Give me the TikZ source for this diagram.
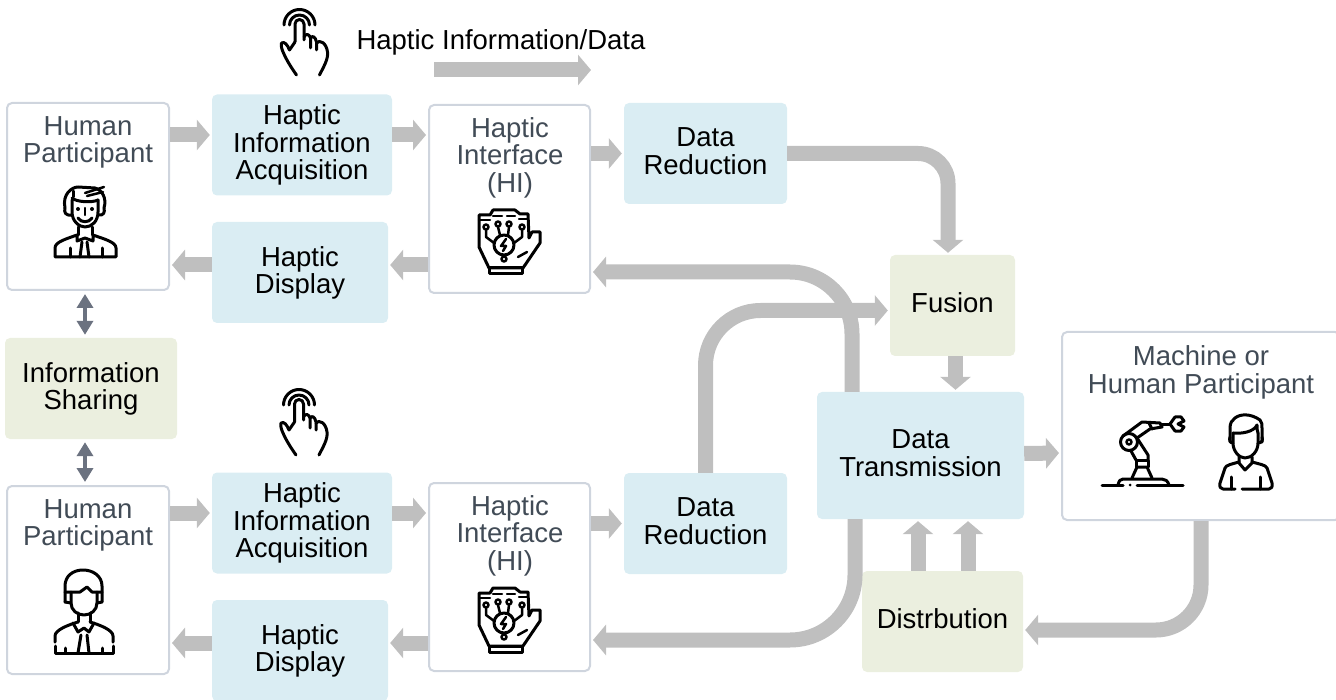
\documentclass[tikz,border=0pt]{standalone}
\usepackage{fontspec}
\setmainfont{Liberation Sans}
\usetikzlibrary{arrows.meta}

\definecolor{flowgray}{HTML}{BFBFBF}
\definecolor{sharegray}{HTML}{6B7280}
\definecolor{boxblue}{HTML}{DAEDF3}
\definecolor{boxgreen}{HTML}{EBEFDF}
\definecolor{boxline}{HTML}{CFD5DE}
\definecolor{labelgray}{HTML}{414B56}

\tikzset{
    basebox/.style={rounded corners=5pt, inner sep=0pt, align=center, text depth=5pt,
        font=\fontsize{27.5}{27.5}\selectfont},
    bluebox/.style={basebox, fill=boxblue},
    greenbox/.style={basebox, fill=boxgreen},
    whitebox/.style={basebox, draw=boxline, line width=2pt, fill=white},
    boxtext/.style={basebox, text=labelgray},
    flow/.style={flowgray, line width=15pt, -{Triangle[length=13pt,width=30pt]}, shorten >=2pt},
    sharing/.style={sharegray, line width=4pt,
        {Triangle[length=14pt,width=16pt]}-{Triangle[length=14pt,width=16pt]},
        shorten <=3pt, shorten >=3pt},
    icon/.style={black, line width=3pt, line cap=round, line join=round},
    hand/.pic={
        \draw (-15.5,1) arc (180:360:15.5);
        \draw (-10,1) arc (180:360:10);
        \draw (-4.5,18) -- (-4.5,0) arc (180:360:4.5) -- (4.5,16);
        \draw (4.5,13) .. controls (6,9) and (10,10) .. (11,14) -- (11,24);
        \draw (11,14) .. controls (13,11) and (16,13) .. (17,18) -- (17,26);
        \draw (17,19) .. controls (20,15) and (27,19) .. (28,28) .. controls (29,35) and (24,43) .. (20,51);
        \draw (-4.5,18) -- (-10,26) .. controls (-12,21) and (-15,17) .. (-18,19) .. controls (-19,22) and (-17,27) .. (-16,29)
            .. controls (-13,36) and (-8,44) .. (-3,51);
    },
    glove/.pic={
        \draw (-19,27) -- (-29,6) -- (-29,-26) -- (-18,-26) -- (-15,-31) -- (-6,-31) -- (-1,-31) -- (7,-31)
            -- (12,-27) -- (20,-27) -- (21,-3) -- (24,-9) -- (32,-9) -- (32,2) -- (15,27) -- cycle;
        \draw (-19,27) rectangle (14,33);
        \draw[line width=2.5pt] (-29,-21) -- (-18,-21) (-15,-25) -- (-6,-25) (-1,-25) -- (7,-25) (11,-22) -- (20,-22);
        \draw (-4,4) circle (10);
        \draw[line width=2.5pt] (-2,-2) -- (-7,5) -- (-2,5) -- (-5,10);
        \draw[line width=2.5pt] (-22,-14) circle (2.5) (-10,-17) circle (2.5) (1,-17) circle (2.5) (14,-14) circle (2.5) (-4,18) circle (2.5);
        \draw[line width=2.5pt] (-22,-11) -- (-22,-4) -- (-14,2) (-10,-14) -- (-8,-6) (1,-14) -- (0,-6) (14,-11) -- (14,-4) -- (6,2);
        \draw[line width=2.5pt] (10,16) -- (19,11);
    },
    manhair/.pic={
        \draw (-21,-4) .. controls (-24,-18) and (-14,-25) .. (-8,-25) -- (9,-24) .. controls (16,-22) and (21,-14) .. (18,-4);
        \draw (-14,-12) -- (-14,0) .. controls (-14,9) and (-7,15) .. (-1,15) .. controls (6,15) and (12,9) .. (12,0) -- (12,-12);
        \draw (-14,-14) .. controls (-10,-10) and (6,-9) .. (12,-12);
        \draw (-13,-15) -- (-13,-21);
        \draw[line width=2.5pt] (-1,-19) -- (18,-25) (1,-16) -- (17,-20);
        \draw (-21,-4) .. controls (-22,0) and (-21,4) .. (-14,3) (18,-4) .. controls (19,0) and (18,4) .. (12,3);
        \fill (-8,-3) circle (2) (6,-3) circle (2);
        \draw[line width=2.5pt] (-1,-4) -- (-1,3);
        \draw (-8,6) .. controls (-5,11) and (3,11) .. (6,6);
        \draw (-8,15) -- (-8,23) (6,15) -- (6,23);
        \draw (-31,45) -- (-31,36) .. controls (-31,30) and (-20,27) .. (-9,23) -- (-9,29) -- (-1,26) -- (7,29) -- (7,23)
            .. controls (18,27) and (30,30) .. (30,36) -- (30,45) -- cycle;
        \draw (-4,30) -- (-6,45) (1,30) -- (3,45);
        \draw (-16,36) -- (-16,45) (16,36) -- (16,45);
    },
    mantie/.pic={
        \draw (-18,2) -- (-18,-14) .. controls (-18,-24) and (-10,-30) .. (0,-30) .. controls (10,-30) and (19,-24) .. (19,-14) -- (19,2);
        \draw (-18,-8) -- (-3,-8) -- (4,-13) -- (9,-8) -- (19,-8);
        \draw (-12,-8) -- (-12,3) .. controls (-12,10) and (-6,15) .. (1,15) .. controls (8,15) and (14,10) .. (14,3) -- (14,-8);
        \draw (-18,2) -- (-12,3) (19,2) -- (14,3);
        \draw (-5,13) -- (-5,22) (7,13) -- (7,22);
        \draw (-28,42) -- (-28,36) .. controls (-28,30) and (-15,25) .. (-5,22);
        \draw (30,42) -- (30,36) .. controls (30,30) and (17,25) .. (7,22);
        \draw (-10,23) -- (-5,32) -- (1,28) -- (6,32) -- (11,23);
        \draw (-28,46) -- (-28,53) -- (30,53) -- (30,46);
        \draw (-2,35) -- (-5,53) (4,35) -- (6,53);
        \draw (-18,48) -- (-18,53) (19,48) -- (19,53);
    },
    manplain/.pic={
        \draw (-16,2) -- (-16,-12) .. controls (-16,-17) and (-14,-20) .. (-11,-22) .. controls (-6,-26) and (4,-27) .. (14,-20)
            .. controls (16,-18) and (16,-15) .. (16,-12) -- (16,2);
        \draw (-13,-7) .. controls (-5,-6) and (8,-8) .. (11,-15) .. controls (11,-12) and (11,-9) .. (12,-7);
        \draw (-13,-7) -- (-13,3) .. controls (-13,11) and (-7,18) .. (-1,18) .. controls (6,18) and (12,11) .. (12,3) -- (12,-7);
        \draw (-16,-3) .. controls (-17,0) and (-16,3) .. (-13,3) (16,-3) .. controls (17,0) and (16,3) .. (12,3);
        \draw (-7,17) -- (-7,23) -- (-1,30) -- (6,23) -- (6,17);
        \draw (-7,22) .. controls (-14,24) and (-20,25) .. (-21,28) -- (-26,43) .. controls (-27,47) and (-25,49) .. (-23,49) -- (-11,49);
        \draw (6,22) .. controls (13,24) and (20,25) .. (21,28) -- (26,43) .. controls (27,47) and (25,49) .. (23,49) -- (-4,49);
        \draw (-15,37) -- (-15,49) (14,37) -- (14,49);
    },
    robotarm/.pic={
        \draw (-1,0) -- (20,0) (34,0) -- (80,0);
        \fill (27,0) circle (1.5);
        \draw (15,0) .. controls (16,-4) and (17,-6) .. (20,-6) -- (59,-6) .. controls (62,-6) and (65,-4) .. (66,0);
        \draw (29,-7) -- (34,-18) -- (44,-18) -- (49,-7);
        \draw (33,-18) -- (33,-25) -- (45,-25) -- (45,-18);
        \draw (26,-43) circle (8.5);
        \draw[line width=2.5pt] (26,-43) circle (2.5);
        \draw (33,-25) -- (28,-34) (45,-25) -- (45,-30) -- (34,-47);
        \draw (20,-49) -- (39,-63) -- (57,-62) -- (59,-58) -- (47,-56) -- (34,-47);
        \draw (46,-62) -- (49,-56);
        \draw (59,-61) -- (67,-61);
        \draw (67,-61) -- (72,-68) -- (78,-68) -- (81,-64) -- (75,-61) -- (81,-58) -- (78,-54) -- (72,-54) -- cycle;
    },
}

\begin{document}
\begin{tikzpicture}[x=1pt,y=-1pt]
    \useasboundingbox (0,0) rectangle (1336,700);

    % The two rows of blocks
    \foreach \r/\dy/\dd in {1/0/0,2/378/370} {
        \node[bluebox, minimum width=180pt, minimum height=101pt] (hia\r) at (302,145+\dy) {Haptic\\Information\\Acquisition};
        \node[bluebox, minimum width=176pt, minimum height=101pt] (hd\r) at (300,272.5+\dy) {Haptic\\Display};
        \node[whitebox, minimum width=161pt, minimum height=188pt] (hi\r) at (509.5,199+\dy) {};
        \node[boxtext] (hitext\r) at (510,157.5+\dy) {Haptic\\Interface\\(HI)};
        \node[bluebox, minimum width=163pt, minimum height=101pt] (dr\r) at (705.5,153.5+\dd) {Data\\Reduction};
        \pic[icon] (glove\r) at (508,241+\dy) {glove};
        \coordinate (in\r) at (200,135+\dy);
        \coordinate (out\r) at (300,265+\dy);
    }
    \node[whitebox, minimum width=162pt, minimum height=187pt] (hp1) at (88,196.5) {};
    \node[whitebox, minimum width=162pt, minimum height=188pt] (hp2) at (88,580) {};
    \node[boxtext] (hptext1) at (88,142) {Human\\Participant};
    \node[boxtext] (hptext2) at (88,525) {Human\\Participant};
    \node[greenbox, minimum width=172pt, minimum height=101pt] (info) at (91,388.5) {Information\\Sharing};
    \node[greenbox, minimum width=125pt, minimum height=101pt] (fusion) at (952.5,305.5) {Fusion};
    \node[bluebox, minimum width=207pt, minimum height=127pt] (dt) at (920.5,455.5) {Data\\Transmission};
    \node[greenbox, minimum width=161pt, minimum height=101pt] (dist) at (942.5,621.5) {Distrbution};
    \node[whitebox, minimum width=278pt, minimum height=188pt] (mh) at (1201,426) {};
    \node[boxtext] (mhtext) at (1201,372) {Machine or\\Human Participant};

    % The icons
    \pic[icon] (hand1) at (299.5,24) {hand};
    \pic[icon] (hand2) at (299,404) {hand};
    \pic[icon] (man1) at (86,212) {manhair};
    \pic[icon] (man2) at (83,600) {mantie};
    \pic[icon] (man3) at (1246,440) {manplain};
    \pic[icon] (robot) at (1103,485) {robotarm};

    % The legend
    \node[basebox] (legend) at (501,42.5) {Haptic Information/Data};
    \coordinate (legendstart) at (434,70);
    \coordinate (legendend) at (593,70);
    \draw[flow] (legendstart) -- (legendend);

    % Straight arrows in each row
    \foreach \r in {1,2} {
        \draw[flow] (hp\r.east |- in\r) -- (hia\r.west |- in\r);
        \draw[flow] (hia\r.east |- in\r) -- (hi\r.west |- in\r);
        \draw[flow] (hi\r.east |- dr\r.west) -- (dr\r.west);
        \draw[flow] (hi\r.west |- out\r) -- (hd\r.east |- out\r);
        \draw[flow] (hd\r.west |- out\r) -- (hp\r.east |- out\r);
    }
    \draw[sharing] ([xshift=-3pt]hp1.south) -- ([xshift=-6pt]info.north);
    \draw[sharing] ([xshift=-6pt]info.south) -- ([xshift=-3pt]hp2.north);

    % Arrows around the transmission block
    \draw[flow] ([xshift=3pt]fusion.south) -- ([xshift=35pt]dt.north);
    \draw[flow] ([yshift=2pt]dt.east) -- ([yshift=-27pt]mh.west);
    \draw[flow] ([xshift=-24.5pt]dist.north) -- ([xshift=-2.5pt]dt.south);
    \draw[flow] ([xshift=25.5pt]dist.north) -- ([xshift=47.5pt]dt.south);

    % Long bent arrows
    \draw[flow, rounded corners=30pt] (dr1.east) -| ([xshift=-4.5pt]fusion.north);
    \draw[flow, rounded corners=62pt] ([xshift=-68.5pt]dt.north) |- ([yshift=-73pt]hi1.east);
    \draw[flow, rounded corners=55pt] (dr2.north) |- ([yshift=-5pt]fusion.west);
    \draw[flow, rounded corners=65pt] ([xshift=-65.5pt]dt.south) |- ([yshift=-63pt]hi2.east);
    \draw[flow, rounded corners=45pt] (mh.south) |- ([yshift=-8.5pt]dist.east);
\end{tikzpicture}
\end{document}
